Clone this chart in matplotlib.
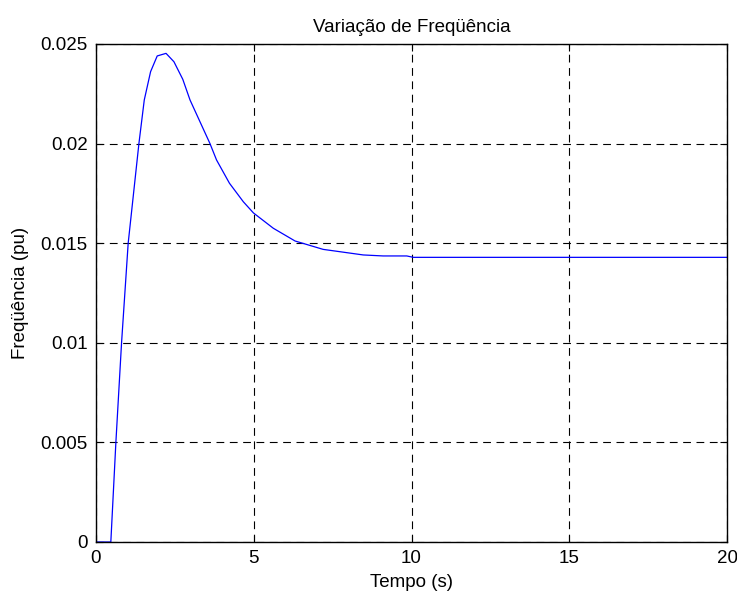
import matplotlib
matplotlib.use("Agg")
import matplotlib.pyplot as plt

# Time (s) and frequency deviation (pu)
tempo = [0.0, 0.47, 0.63, 0.81, 1.02, 1.36, 1.53, 1.73, 1.94, 2.22, 2.47, 2.75,
         2.98, 3.61, 3.82, 4.23, 4.67, 4.99, 5.62, 6.31, 7.2, 8.47, 9.1, 9.85,
         10.06, 20.0]
freq = [0.0, 0.0, 0.005, 0.010, 0.015, 0.020, 0.02219, 0.02361, 0.0244, 0.02453,
        0.02411, 0.02323, 0.02219, 0.02001, 0.01918, 0.01801, 0.01708, 0.01652,
        0.01575, 0.01511, 0.01469, 0.01441, 0.01436, 0.01436, 0.01429, 0.01429]

xticks = [0, 5, 10, 15, 20]
yticks = [0, 0.005, 0.01, 0.015, 0.02, 0.025]
ytick_labels = ["0", "0.005", "0.01", "0.015", "0.02", "0.025"]

plt.rcParams['font.family'] = ['Liberation Sans', 'DejaVu Sans']
fs = 13.5

fig = plt.figure(figsize=(7.37, 5.98), dpi=100)
ax = fig.add_axes([96/737, 1-542/598, (727-96)/737, (542-44)/598])
ax.plot(tempo, freq, color=(0, 0, 1), lw=0.9)
ax.set_xlim(0, 20)
ax.set_ylim(0, 0.025)
ax.set_xticks(xticks)
ax.set_xticklabels([str(v) for v in xticks], fontsize=fs)
ax.set_yticks(yticks)
ax.set_yticklabels(ytick_labels, fontsize=fs)
ax.tick_params(direction='in', top=True, right=True, length=5, width=0.8, pad=6)
ax.grid(True, color='black', linestyle=(0, (7, 5)), lw=0.8)
for s in ax.spines.values():
    s.set_linewidth(1.0)
ax.set_title("Variação de Freqüência", fontsize=fs, pad=9)
ax.set_xlabel("Tempo (s)", fontsize=fs, labelpad=5)
ax.set_ylabel("Freqüência (pu)", fontsize=fs, labelpad=8)
fig.savefig("out.png", dpi=100)
